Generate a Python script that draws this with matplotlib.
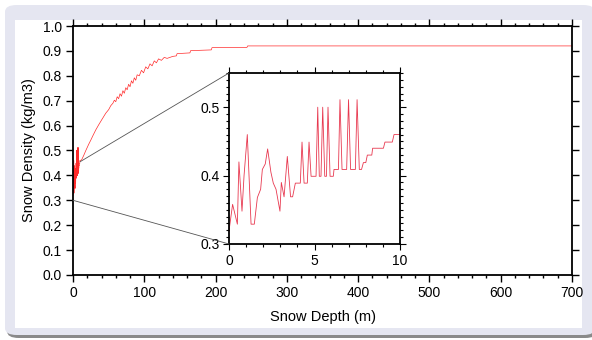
import numpy as np
import matplotlib
matplotlib.use('Agg')
import matplotlib.pyplot as plt
from matplotlib.patches import FancyBboxPatch, Rectangle, ConnectionPatch
from matplotlib.ticker import MultipleLocator

plt.rcParams['font.family'] = ['Liberation Sans', 'DejaVu Sans']

# shallow part (0-10 m)
near_depth = [0.0, 0.21, 0.49, 0.58, 0.76, 0.88, 1.07, 1.29, 1.48, 1.66, 1.85, 1.95,
              2.12, 2.26, 2.45, 2.59, 2.75, 2.98, 3.06, 3.22, 3.41, 3.60, 3.72, 3.88,
              4.17, 4.27, 4.39, 4.58, 4.68, 4.80, 5.09, 5.19, 5.28, 5.38, 5.48, 5.60,
              5.70, 5.79, 5.91, 6.10, 6.14, 6.40, 6.49, 6.61, 6.88, 6.99, 7.11, 7.39,
              7.49, 7.62, 7.75, 7.86, 8.00, 8.09, 8.35, 8.40, 9.03, 9.12, 9.55, 9.65, 10.0]
near_density = [0.319, 0.358, 0.329, 0.420, 0.348, 0.400, 0.460, 0.329, 0.329, 0.368,
                0.380, 0.409, 0.417, 0.439, 0.405, 0.389, 0.380, 0.348, 0.390, 0.369,
                0.428, 0.369, 0.369, 0.389, 0.389, 0.449, 0.389, 0.389, 0.449, 0.399,
                0.399, 0.500, 0.399, 0.399, 0.500, 0.399, 0.399, 0.500, 0.399, 0.399,
                0.409, 0.409, 0.511, 0.409, 0.409, 0.511, 0.409, 0.409, 0.511, 0.409,
                0.409, 0.419, 0.419, 0.430, 0.430, 0.440, 0.440, 0.449, 0.449, 0.460, 0.460]

# deeper part
deep_depth = [12, 15, 18, 22, 25, 28, 32, 36, 40, 43, 46, 50, 53, 56, 58, 60, 62, 64,
              66, 68, 70, 72, 74, 76, 78, 80, 82, 84, 86, 88, 90, 93, 96, 99, 102, 105,
              108, 111, 114, 117, 120, 124, 128, 132, 140, 145, 146, 164, 165, 194,
              195, 244, 245, 700]
deep_density = [0.462, 0.480, 0.500, 0.525, 0.542, 0.560, 0.583, 0.603, 0.622, 0.636,
                0.650, 0.664, 0.680, 0.690, 0.702, 0.696, 0.716, 0.708, 0.728, 0.718,
                0.740, 0.730, 0.752, 0.744, 0.766, 0.756, 0.780, 0.770, 0.792, 0.782,
                0.804, 0.800, 0.822, 0.812, 0.836, 0.828, 0.848, 0.840, 0.860, 0.852,
                0.868, 0.862, 0.874, 0.870, 0.878, 0.880, 0.889, 0.892, 0.901, 0.904,
                0.913, 0.914, 0.920, 0.920]

depth = near_depth + deep_depth
density = near_density + deep_density

fig = plt.figure(figsize=(5.92, 3.40), dpi=100)
fig.patch.set_facecolor('white')

# frame around the chart
fig.patches.append(FancyBboxPatch((7 / 592, 2 / 340), 590 / 592, 330 / 340,
                                  boxstyle='round,pad=0,rounding_size=0.02',
                                  transform=fig.transFigure, facecolor='#8a8a8a',
                                  edgecolor='none', zorder=-3))
fig.patches.append(FancyBboxPatch((5 / 592, 5 / 340), 590 / 592, 330 / 340,
                                  boxstyle='round,pad=0,rounding_size=0.02',
                                  transform=fig.transFigure, facecolor='#e5e6f1',
                                  edgecolor='none', zorder=-2))
fig.patches.append(Rectangle((15 / 592, 12 / 340), 567 / 592, 308 / 340,
                             transform=fig.transFigure, facecolor='white',
                             edgecolor='none', zorder=-1))

ax = fig.add_axes([73 / 592, 65 / 340, 499 / 592, 249 / 340])
ax.patch.set_alpha(0)
ax.plot(depth, density, color='#ff2a2a', lw=0.5)
ax.set_xlim(0, 700)
ax.set_ylim(0, 1.0)
ax.xaxis.set_major_locator(MultipleLocator(100))
ax.xaxis.set_minor_locator(MultipleLocator(20))
ax.yaxis.set_major_locator(MultipleLocator(0.1))
ax.yaxis.set_major_formatter(plt.FormatStrFormatter('%.1f'))
ax.tick_params(which='both', direction='out', top=True, right=True,
               labelsize=10, width=1.0, pad=3)
ax.tick_params(which='major', length=5)
ax.tick_params(which='minor', length=2.5, left=False, right=False)
for s in ax.spines.values():
    s.set_linewidth(1.3)
ax.set_xlabel('Snow Depth (m)', fontsize=10.5, labelpad=7)
ax.set_ylabel('Snow Density (kg/m3)', fontsize=10.5, labelpad=5)

ins = fig.add_axes([229 / 592, 96 / 340, 171 / 592, 171 / 340])
ins.plot(near_depth, near_density, color='#e8384f', lw=0.6)
ins.set_xlim(0, 10)
ins.set_ylim(0.3, 0.55)
ins.xaxis.set_major_locator(MultipleLocator(5))
ins.xaxis.set_minor_locator(MultipleLocator(1))
ins.yaxis.set_major_locator(MultipleLocator(0.1))
ins.yaxis.set_minor_locator(MultipleLocator(0.01))
ins.yaxis.set_major_formatter(plt.FormatStrFormatter('%.1f'))
ins.tick_params(which='both', direction='out', top=True, right=True,
                labelsize=10, width=0.8, pad=3)
ins.tick_params(which='major', length=4)
ins.tick_params(which='minor', length=2)
for s in ins.spines.values():
    s.set_linewidth(1.3)

# zoom connectors
for xa, ya, xb, yb in [(10, 0.455, 0, 0.55), (0, 0.3, 0, 0.3)]:
    con = ConnectionPatch(xyA=(xa, ya), coordsA=ax.transData,
                          xyB=(xb, yb), coordsB=ins.transData,
                          color='#555555', lw=0.6)
    fig.add_artist(con)

fig.savefig('out.png', dpi=100)
